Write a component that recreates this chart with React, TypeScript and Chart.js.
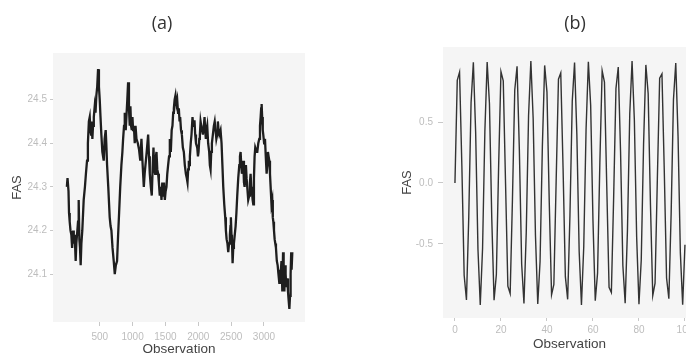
import React, { useEffect, useRef } from "react";
import { Chart, registerables } from "chart.js";

Chart.register(...registerables);

// ---------- Panel (a) data ----------
const obsA = [
  0, 10, 25, 33, 43, 55, 68, 80, 94, 105, 119, 134, 144, 160, 170, 180, 190, 200, 210, 221,
  235, 256, 275, 290, 307, 320, 335, 348, 358, 368, 378, 388, 398, 410, 424, 436, 449, 462, 475, 488,
  500, 512, 525, 540, 561, 575, 591, 600, 612, 630, 652, 665, 678, 695, 713, 729, 745, 764, 780, 795,
  812, 830, 845, 856, 870, 881, 896, 906, 920, 932, 945, 957, 967, 977, 988, 998, 1008, 1020, 1033, 1045,
  1059, 1080, 1099, 1117, 1135, 1150, 1171, 1184, 1196, 1215, 1237, 1250, 1262, 1278, 1292, 1305, 1318, 1330, 1343, 1355,
  1364, 1376, 1389, 1400, 1414, 1427, 1440, 1452, 1465, 1478, 1491, 1503, 1516, 1528, 1541, 1555, 1567, 1582, 1595, 1607,
  1618, 1628, 1640, 1653, 1666, 1679, 1692, 1704, 1715, 1724, 1737, 1750, 1765, 1780, 1795, 1811, 1825, 1836, 1846, 1856,
  1866, 1872, 1885, 1897, 1912, 1922, 1933, 1943, 1953, 1965, 1984, 1995, 2004, 2015, 2024, 2035, 2045, 2058, 2070, 2085,
  2095, 2105, 2115, 2125, 2136, 2150, 2166, 2176, 2187, 2197, 2207, 2222, 2237, 2250, 2263, 2275, 2288, 2298, 2308, 2320,
  2339, 2354, 2367, 2380, 2395, 2410, 2420, 2431, 2444, 2456, 2468, 2481, 2490, 2496, 2505, 2512, 2522, 2532, 2542, 2555,
  2568, 2580, 2593, 2608, 2624, 2634, 2644, 2654, 2664, 2674, 2684, 2695, 2705, 2715, 2725, 2735, 2745, 2760, 2776, 2786,
  2796, 2806, 2817, 2827, 2837, 2847, 2857, 2867, 2877, 2888, 2898, 2913, 2928, 2939, 2949, 2957, 2964, 2972, 2981, 2989,
  3002, 3015, 3027, 3040, 3050, 3060, 3070, 3081, 3091, 3101, 3114, 3126, 3134, 3142, 3152, 3162, 3172, 3182, 3195, 3208,
  3220, 3233, 3243, 3253, 3266, 3279, 3290, 3299, 3310, 3320, 3329, 3340, 3355, 3365, 3375, 3386, 3396, 3405, 3414, 3420,
  3431,
];
const fasA = [
  24.30, 24.32, 24.29, 24.24, 24.22, 24.20, 24.19, 24.16, 24.20, 24.17, 24.19, 24.13, 24.17, 24.20, 24.22, 24.27, 24.18, 24.16, 24.12, 24.17,
  24.20, 24.27, 24.30, 24.33, 24.36, 24.40, 24.45, 24.46, 24.43, 24.42, 24.45, 24.41, 24.44, 24.46, 24.485, 24.47, 24.51, 24.53, 24.57, 24.53,
  24.50, 24.46, 24.42, 24.38, 24.36, 24.41, 24.43, 24.40, 24.35, 24.30, 24.23, 24.21, 24.20, 24.16, 24.13, 24.10, 24.12, 24.13, 24.19, 24.24,
  24.30, 24.35, 24.38, 24.41, 24.44, 24.47, 24.43, 24.46, 24.50, 24.54, 24.48, 24.44, 24.485, 24.44, 24.43, 24.46, 24.43, 24.44, 24.40, 24.44,
  24.41, 24.40, 24.385, 24.36, 24.41, 24.36, 24.30, 24.33, 24.35, 24.38, 24.42, 24.37, 24.33, 24.30, 24.28, 24.34, 24.39, 24.34, 24.33, 24.37,
  24.38, 24.34, 24.33, 24.31, 24.28, 24.30, 24.27, 24.31, 24.28, 24.31, 24.27, 24.29, 24.30, 24.33, 24.35, 24.37, 24.41, 24.38, 24.43, 24.44,
  24.47, 24.48, 24.50, 24.51, 24.49, 24.50, 24.47, 24.48, 24.45, 24.46, 24.43, 24.42, 24.39, 24.38, 24.35, 24.33, 24.32, 24.31, 24.34, 24.36,
  24.35, 24.37, 24.40, 24.42, 24.46, 24.44, 24.45, 24.45, 24.42, 24.40, 24.39, 24.37, 24.38, 24.41, 24.42, 24.45, 24.44, 24.43, 24.42, 24.44,
  24.46, 24.43, 24.41, 24.43, 24.44, 24.40, 24.38, 24.35, 24.34, 24.38, 24.40, 24.42, 24.44, 24.45, 24.43, 24.41, 24.42, 24.45, 24.43, 24.42,
  24.43, 24.40, 24.35, 24.30, 24.26, 24.23, 24.20, 24.18, 24.17, 24.15, 24.17, 24.19, 24.21, 24.23, 24.19, 24.18, 24.125, 24.16, 24.17, 24.19,
  24.21, 24.24, 24.28, 24.32, 24.35, 24.37, 24.38, 24.35, 24.33, 24.34, 24.36, 24.31, 24.30, 24.33, 24.35, 24.32, 24.30, 24.27, 24.28, 24.31,
  24.33, 24.30, 24.29, 24.27, 24.26, 24.32, 24.37, 24.39, 24.39, 24.38, 24.38, 24.40, 24.41, 24.44, 24.46, 24.48, 24.49, 24.46, 24.43, 24.42,
  24.40, 24.41, 24.37, 24.33, 24.35, 24.38, 24.37, 24.36, 24.33, 24.30, 24.26, 24.27, 24.23, 24.22, 24.20, 24.18, 24.17, 24.16, 24.13, 24.12,
  24.10, 24.08, 24.11, 24.10, 24.13, 24.06, 24.15, 24.09, 24.06, 24.12, 24.10, 24.07, 24.09, 24.06, 24.04, 24.02, 24.05, 24.10, 24.15, 24.11,
  24.15,
];
const xTicksA = [500, 1000, 1500, 2000, 2500, 3000];
const yTicksA = [24.1, 24.2, 24.3, 24.4, 24.5];

// ---------- Panel (b) data ----------
const obsB = [
  0, 1, 2, 3, 4, 5, 6, 7, 8, 9, 10, 11, 12, 13, 14, 15, 16, 17, 18, 19,
  20, 21, 22, 23, 24, 25, 26, 27, 28, 29, 30, 31, 32, 33, 34, 35, 36, 37, 38, 39,
  40, 41, 42, 43, 44, 45, 46, 47, 48, 49, 50, 51, 52, 53, 54, 55, 56, 57, 58, 59,
  60, 61, 62, 63, 64, 65, 66, 67, 68, 69, 70, 71, 72, 73, 74, 75, 76, 77, 78, 79,
  80, 81, 82, 83, 84, 85, 86, 87, 88, 89, 90, 91, 92, 93, 94, 95, 96, 97, 98, 99,
  100,
];
const fasB = [
  0.0, 0.841, 0.909, 0.141, -0.757, -0.959, -0.279, 0.657, 0.989, 0.412,
  -0.544, -1.0, -0.537, 0.42, 0.991, 0.65, -0.288, -0.961, -0.751, 0.15,
  0.913, 0.837, -0.009, -0.846, -0.906, -0.132, 0.763, 0.956, 0.271, -0.664,
  -0.988, -0.404, 0.551, 1.0, 0.529, -0.428, -0.992, -0.644, 0.296, 0.964,
  0.745, -0.159, -0.917, -0.832, 0.018, 0.851, 0.902, 0.124, -0.768, -0.954,
  -0.262, 0.67, 0.987, 0.396, -0.559, -1.0, -0.521, 0.436, 0.993, 0.637,
  -0.305, -0.966, -0.739, 0.167, 0.92, 0.827, -0.027, -0.856, -0.898, -0.115,
  0.774, 0.951, 0.254, -0.677, -0.985, -0.388, 0.566, 0.999, 0.514, -0.444,
  -0.994, -0.629, 0.313, 0.968, 0.733, -0.176, -0.923, -0.822, 0.035, 0.86,
  0.894, 0.106, -0.779, -0.948, -0.245, 0.683, 0.984, 0.38, -0.573, -0.999,
  -0.506,
];
const xTicksB = [0, 20, 40, 60, 80, 100];
const yTicksB = [-0.5, 0, 0.5];

const TICK_COLOR = "#bdbdbd";
const TITLE_COLOR = "#444444";
const FONT = "'Liberation Sans', Arial, sans-serif";

const plotBg = {
  id: "plotBg",
  beforeDraw(chart: any) {
    const { ctx, chartArea: a } = chart;
    ctx.save();
    ctx.fillStyle = "#f5f5f5";
    ctx.fillRect(a.left, a.top, a.right - a.left, a.bottom - a.top);
    ctx.restore();
  },
};

type PanelSpec = {
  xs: number[];
  ys: number[];
  xMin: number;
  xMax: number;
  yMin: number;
  yMax: number;
  xTicks: number[];
  yTicks: number[];
  fmtX: (v: number) => string;
  fmtY: (v: number) => string;
  padding: { top: number; right: number; bottom: number; left: number };
  yWidth: number;
  xHeight: number;
  xTickLen: number;
  xTickPad: number;
  yTickLen: number;
  yTickPad: number;
  xTitlePad: number;
  yTitlePad: number;
  lineWidth: number;
  lineColor: string;
};

function buildConfig(p: PanelSpec): any {
  const points = p.xs.map((x, i) => ({ x, y: p.ys[i] }));
  return {
    type: "line",
    data: {
      datasets: [
        {
          data: points,
          borderColor: p.lineColor,
          borderWidth: p.lineWidth,
          pointRadius: 0,
          tension: 0,
          fill: false,
        },
      ],
    },
    options: {
      responsive: false,
      animation: false,
      events: [],
      layout: { padding: p.padding },
      plugins: { legend: { display: false }, tooltip: { enabled: false }, title: { display: false } },
      scales: {
        x: {
          type: "linear",
          min: p.xMin,
          max: p.xMax,
          afterBuildTicks: (s: any) => {
            s.ticks = p.xTicks.map((v) => ({ value: v }));
          },
          afterFit: (s: any) => {
            s.height = p.xHeight;
          },
          border: { display: false },
          grid: {
            drawOnChartArea: false,
            drawTicks: true,
            tickLength: p.xTickLen,
            color: "#c8c8c8",
            lineWidth: 1,
          },
          ticks: {
            padding: p.xTickPad,
            maxRotation: 0,
            autoSkip: false,
            color: TICK_COLOR,
            font: { family: FONT, size: 10 },
            callback: (v: any) => p.fmtX(Number(v)),
          },
          title: {
            display: true,
            text: "Observation",
            color: TITLE_COLOR,
            font: { family: FONT, size: 13.5 },
            padding: { top: 0, bottom: p.xTitlePad },
          },
        },
        y: {
          type: "linear",
          min: p.yMin,
          max: p.yMax,
          afterBuildTicks: (s: any) => {
            s.ticks = p.yTicks.map((v) => ({ value: v }));
          },
          afterFit: (s: any) => {
            s.width = p.yWidth;
          },
          border: { display: false },
          grid: {
            drawOnChartArea: false,
            drawTicks: true,
            tickLength: p.yTickLen,
            color: "#c8c8c8",
            lineWidth: 1,
          },
          ticks: {
            padding: p.yTickPad,
            autoSkip: false,
            color: TICK_COLOR,
            font: { family: FONT, size: 10 },
            callback: (v: any) => p.fmtY(Number(v)),
          },
          title: {
            display: true,
            text: "FAS",
            color: TITLE_COLOR,
            font: { family: FONT, size: 13 },
            padding: { top: p.yTitlePad, bottom: 0 },
          },
        },
      },
    },
    plugins: [plotBg],
  };
}

function Panel({ left, width, spec }: { left: number; width: number; spec: PanelSpec }) {
  const ref = useRef<HTMLCanvasElement | null>(null);
  useEffect(() => {
    if (!ref.current) return;
    const chart = new Chart(ref.current, buildConfig(spec));
    return () => chart.destroy();
  }, []);
  return (
    <canvas
      ref={ref}
      width={width}
      height={361}
      style={{ position: "absolute", left, top: 0, width, height: 361 }}
    />
  );
}

const specA: PanelSpec = {
  xs: obsA,
  ys: fasA,
  xMin: -211,
  xMax: 3624,
  yMin: 23.99,
  yMax: 24.607,
  xTicks: xTicksA,
  yTicks: yTicksA,
  fmtX: (v) => String(v),
  fmtY: (v) => v.toFixed(1),
  padding: { top: 53, right: 38, bottom: 0, left: 0 },
  yWidth: 53,
  xHeight: 39,
  xTickLen: 4,
  xTickPad: 5,
  yTickLen: 3,
  yTickPad: 3,
  xTitlePad: 4,
  yTitlePad: 10,
  lineWidth: 2.3,
  lineColor: "#1e1e1e",
};

const specB: PanelSpec = {
  xs: obsB,
  ys: fasB,
  xMin: -5.2,
  xMax: 104.8,
  yMin: -1.107,
  yMax: 1.115,
  xTicks: xTicksB,
  yTicks: yTicksB,
  fmtX: (v) => String(v),
  fmtY: (v) => v.toFixed(1),
  padding: { top: 47, right: 7, bottom: 0, left: 0 },
  yWidth: 100,
  xHeight: 43,
  xTickLen: 3,
  xTickPad: 3,
  yTickLen: 5,
  yTickPad: 5,
  xTitlePad: 9,
  yTitlePad: 57,
  lineWidth: 1.4,
  lineColor: "#333333",
};

const titleStyle = (center: number): React.CSSProperties => ({
  position: "absolute",
  left: center - 40,
  width: 80,
  top: 11,
  lineHeight: "22px",
  textAlign: "center",
  fontFamily: "'Open Sans', 'Noto Sans', sans-serif",
  fontSize: 18,
  color: "#333333",
});

export default function App() {
  return (
    <div
      style={{
        position: "fixed",
        left: 0,
        top: 0,
        width: 686,
        height: 361,
        overflow: "hidden",
        background: "#ffffff",
      }}
    >
      <Panel left={0} width={343} spec={specA} />
      <Panel left={343} width={360} spec={specB} />
      <div style={titleStyle(162)}>(a)</div>
      <div style={titleStyle(575)}>(b)</div>
    </div>
  );
}
